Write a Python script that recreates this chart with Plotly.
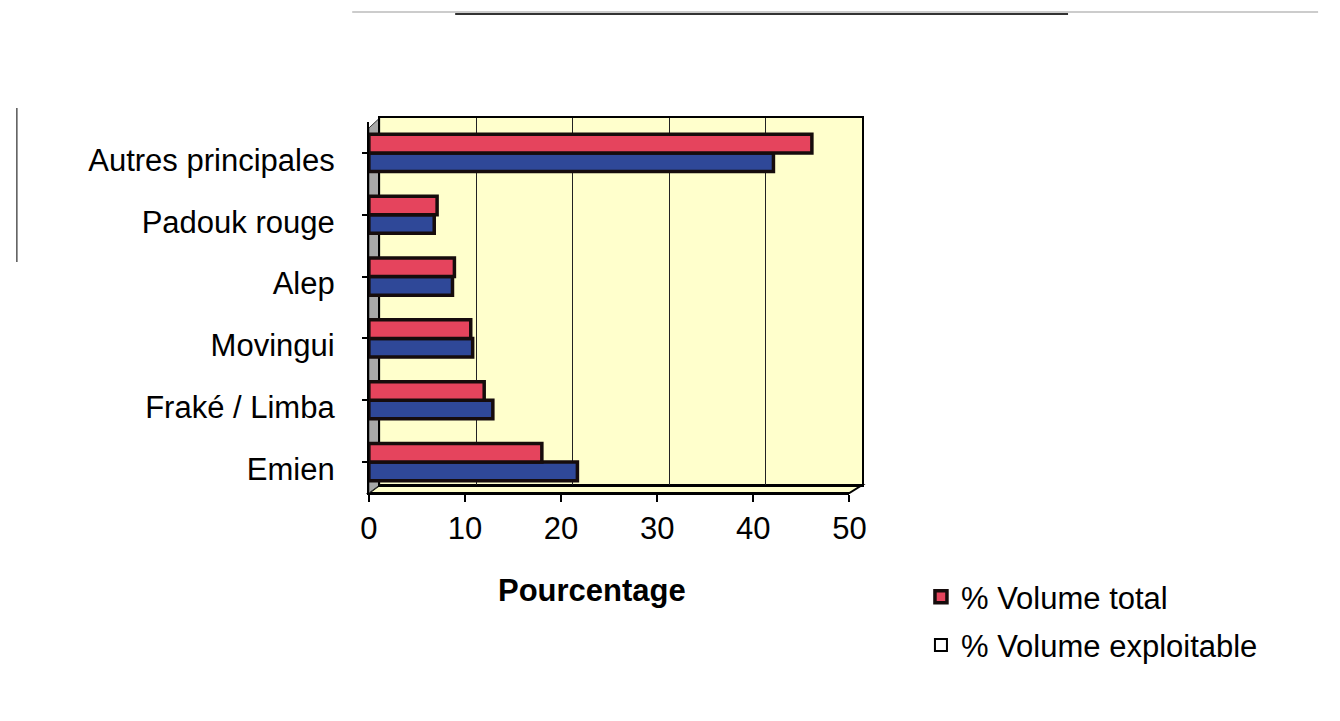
import plotly.graph_objects as go

# ---- data ----
categories = ["Emien", "Fraké / Limba", "Movingui", "Alep", "Padouk rouge", "Autres principales"]
volume_total = [18.0, 12.0, 10.6, 8.9, 7.1, 46.1]
volume_exploitable = [21.7, 12.9, 10.8, 8.7, 6.8, 42.1]
x_ticks = [0, 10, 20, 30, 40, 50]
series_names = ["% Volume total", "% Volume exploitable"]
axis_title = "Pourcentage"

# ---- layout helpers (pixel -> paper) ----
W, H = 1340, 721
def fx(p):
    return p / W
def fy(p):
    return 1 - p / H

RED = "#E5445D"
BLUE = "#2F4898"
WALL = "#FFFFCC"
SIDE = "#A8A8A8"
OUTLINE = "#160C0C"
FONT = "Liberation Sans, Arial, sans-serif"
FS = 31

# back wall and front plane geometry (pixels)
wall_l, wall_r, wall_t, wall_b = 378, 870, 118, 485
front_l, front_r, front_t, front_b = 367, 857, 122, 493

fig = go.Figure()

# bars (front plane subplot)
fig.add_trace(go.Bar(
    y=categories, x=volume_exploitable, orientation="h",
    xaxis="x2", yaxis="y2", name=series_names[1], showlegend=False,
    marker=dict(color=BLUE, line=dict(color=OUTLINE, width=3.5)),
))
fig.add_trace(go.Bar(
    y=categories, x=volume_total, orientation="h",
    xaxis="x2", yaxis="y2", name=series_names[0],
    legendrank=1, legendgroup="a",
    marker=dict(color=RED, line=dict(color=OUTLINE, width=3.5)),
))
# legend-only entry (empty box as in the reference legend)
fig.add_trace(go.Bar(
    y=[None], x=[None], orientation="h", xaxis="x", yaxis="y",
    name=series_names[1], legendrank=2, legendgroup="b",
    marker=dict(color="white", line=dict(color="black", width=2)),
))

fig.update_layout(
    width=W, height=H, autosize=False,
    margin=dict(l=0, r=0, t=0, b=0),
    paper_bgcolor="white", plot_bgcolor="rgba(0,0,0,0)",
    font=dict(family=FONT, size=FS, color="black"),
    barmode="group", bargap=0.4, bargroupgap=0.0,
    # back wall subplot
    xaxis=dict(domain=[fx(wall_l), fx(wall_r)], range=[0, 50], tickvals=x_ticks,
               showticklabels=False, ticks="", showgrid=True, gridcolor="#222222",
               gridwidth=1, zeroline=False, showline=True, mirror=True,
               linecolor="black", linewidth=2, anchor="y", fixedrange=True),
    yaxis=dict(domain=[fy(wall_b), fy(wall_t)], range=[0, 1], showticklabels=False,
               ticks="", showgrid=False, zeroline=False, showline=True, mirror=True,
               linecolor="black", linewidth=2, anchor="x", fixedrange=True),
    # front plane subplot with the bars
    xaxis2=dict(domain=[fx(front_l), fx(front_r)], range=[0, 50], tickvals=x_ticks,
                ticks="outside", ticklen=7, tickwidth=2, tickcolor="black",
                ticklabelstandoff=0, tickfont=dict(size=FS),
                showgrid=False, zeroline=False, showline=True, linecolor="black",
                linewidth=2, anchor="y2"),
    yaxis2=dict(domain=[fy(front_b), fy(front_t)], type="category",
                categoryorder="array", categoryarray=categories,
                ticks="outside", ticklen=5, tickwidth=2, tickcolor="black",
                ticklabelstandoff=21, ticklabelshift=7, tickfont=dict(size=FS),
                showgrid=False, zeroline=False, showline=True, linecolor="black",
                linewidth=2, anchor="x2"),
    legend=dict(x=fx(930), y=fy(570), xanchor="left", yanchor="top",
                font=dict(size=FS), bgcolor="rgba(0,0,0,0)", traceorder="grouped",
                tracegroupgap=5, itemwidth=30),
    showlegend=True,
)

shapes = [
    # yellow back wall
    dict(type="rect", xref="x domain", yref="y domain", x0=0, x1=1, y0=0, y1=1,
         fillcolor=WALL, line=dict(width=0), layer="below"),
    # floor
    dict(type="path", xref="paper", yref="paper", layer="below",
         path=f"M {fx(front_l)},{fy(front_b)} L {fx(front_r)},{fy(front_b)} "
              f"L {fx(wall_r)},{fy(wall_b)} L {fx(wall_l)},{fy(wall_b)} Z",
         fillcolor=WALL, line=dict(color="black", width=2)),
    # grey side wall
    dict(type="path", xref="paper", yref="paper", layer="below",
         path=f"M {fx(front_l)},{fy(front_b)} L {fx(wall_l)},{fy(wall_b)} "
              f"L {fx(wall_l)},{fy(wall_t)} L {fx(front_l)},{fy(front_t + 6)} Z",
         fillcolor=SIDE, line=dict(color="#333333", width=1)),
    # scan border artefacts
    dict(type="line", xref="paper", yref="paper", x0=fx(8), x1=fx(8), y0=fy(108), y1=fy(262),
         line=dict(color="#555555", width=1.5)),
    dict(type="line", xref="paper", yref="paper", x0=fx(350), x1=fx(1335), y0=fy(12), y1=fy(12),
         line=dict(color="#999999", width=1)),
    dict(type="line", xref="paper", yref="paper", x0=fx(455), x1=fx(1080), y0=fy(14), y1=fy(14),
         line=dict(color="#333333", width=2)),
]
fig.update_layout(shapes=shapes)

fig.add_annotation(text=f"<b>{axis_title}</b>", xref="paper", yref="paper",
                   x=fx(595), y=fy(590), showarrow=False,
                   font=dict(size=FS, family=FONT), xanchor="center", yanchor="middle")

fig.write_html(
    "out.html",
    config={"displayModeBar": False},
    post_script="document.body.style.margin='0';document.body.style.overflow='hidden';",
)
